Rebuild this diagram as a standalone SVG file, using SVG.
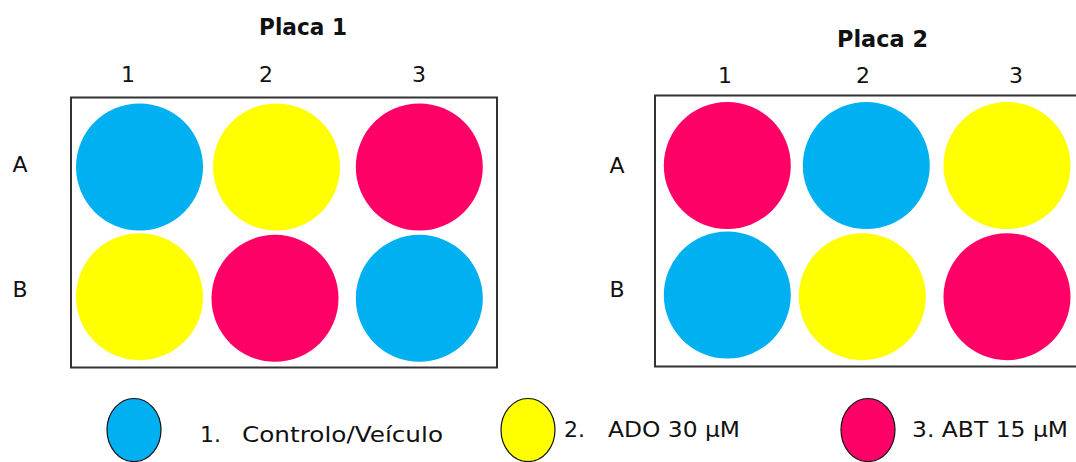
<svg xmlns="http://www.w3.org/2000/svg" width="1076" height="462" viewBox="0 0 1076 462">
<style>
text{font-family:"DejaVu Sans","Liberation Sans",sans-serif;fill:#111;}
.t{font-size:23px;font-weight:bold;}
.l{font-size:22px;text-anchor:middle;}
.g{font-size:22px;}
.plate{fill:#fff;stroke:#333;stroke-width:2;}
.c{fill:#00B0F0;}
.y{fill:#FFFF00;}
.r{fill:#FF0066;}
.k{stroke:#111;stroke-width:1.2;}
</style>
<rect width="1076" height="462" fill="#fff"/>
<g id="plate1">
<text class="t" x="259" y="35" textLength="88" lengthAdjust="spacingAndGlyphs">Placa  1</text>
<text class="l" x="128" y="82">1</text>
<text class="l" x="266" y="82">2</text>
<text class="l" x="419" y="82">3</text>
<text class="l" x="20" y="172">A</text>
<text class="l" x="20" y="297">B</text>
<rect class="plate" x="71" y="97.5" width="426" height="270"/>
<circle class="c" cx="139.5" cy="167" r="63.5"/>
<circle class="y" cx="276.5" cy="167" r="63.5"/>
<circle class="r" cx="419.3" cy="167" r="63.5"/>
<circle class="y" cx="139.5" cy="296.7" r="63.5"/>
<circle class="r" cx="275" cy="298.3" r="63.5"/>
<circle class="c" cx="419.3" cy="298.3" r="63.5"/>
</g>
<g id="plate2">
<text class="t" x="837" y="47.3" textLength="91" lengthAdjust="spacingAndGlyphs">Placa  2</text>
<text class="l" x="725" y="83">1</text>
<text class="l" x="863" y="83">2</text>
<text class="l" x="1016" y="83">3</text>
<text class="l" x="617" y="173">A</text>
<text class="l" x="617" y="297">B</text>
<rect class="plate" x="655" y="95.5" width="440" height="271"/>
<circle class="r" cx="727.3" cy="165.5" r="63.5"/>
<circle class="c" cx="866.3" cy="165.5" r="63.5"/>
<circle class="y" cx="1007" cy="165.5" r="63.5"/>
<circle class="c" cx="727.3" cy="295" r="63.5"/>
<circle class="y" cx="862.3" cy="296.7" r="63.5"/>
<circle class="r" cx="1007" cy="296.7" r="63.5"/>
</g>
<g id="legend">
<ellipse class="c k" cx="134" cy="430" rx="27" ry="31.5"/>
<text class="g" x="200" y="442">1.</text>
<text class="g" x="242" y="442" textLength="201" lengthAdjust="spacingAndGlyphs">Controlo/Veículo</text>
<ellipse class="y k" cx="528" cy="430" rx="27" ry="31.5"/>
<text class="g" x="564" y="437">2.</text>
<text class="g" x="608" y="437" textLength="132" lengthAdjust="spacingAndGlyphs">ADO 30  µM</text>
<ellipse class="r k" cx="868" cy="430" rx="27" ry="31.5"/>
<text class="g" x="912" y="437" textLength="156" lengthAdjust="spacingAndGlyphs">3. ABT 15  µM</text>
</g>
<g id="connectors"/>
</svg>
